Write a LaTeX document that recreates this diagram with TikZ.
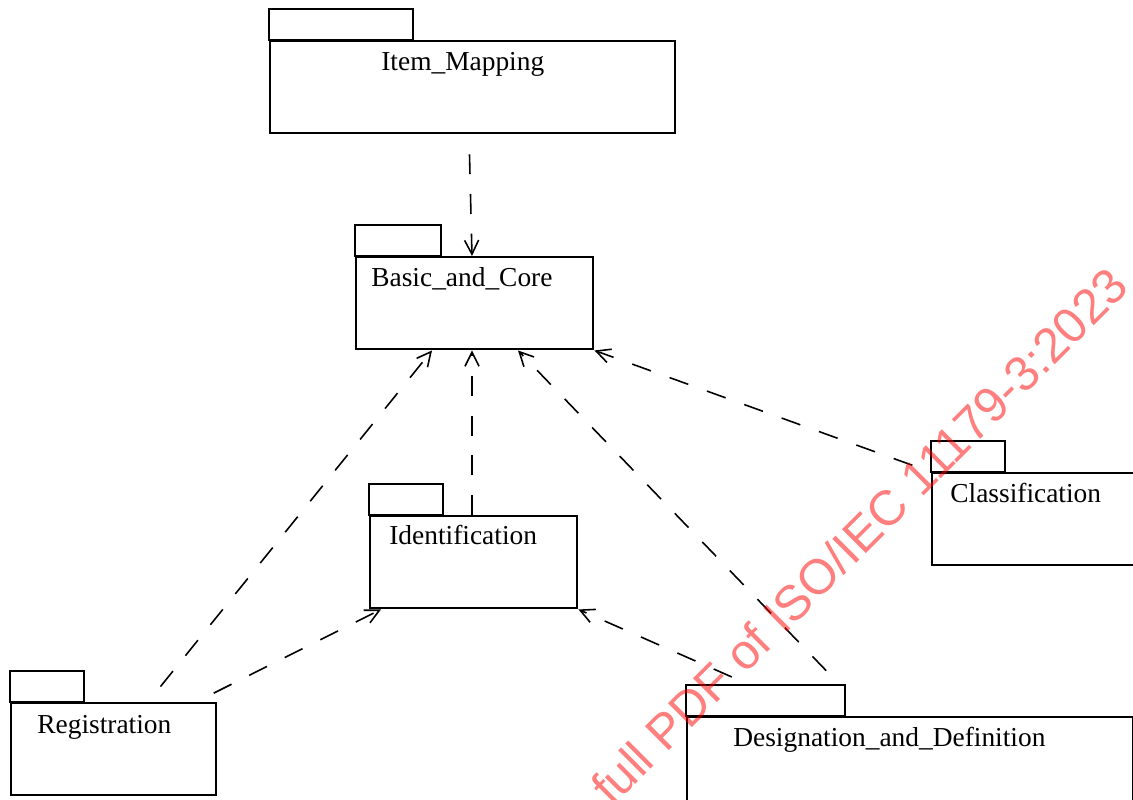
\documentclass[tikz,border=0pt]{standalone}
\usepackage{fontspec}
\setmainfont{Liberation Serif}
\newfontfamily\wmfont{Liberation Sans}
\usetikzlibrary{arrows.meta, calc}

\newlength\px
\setlength\px{0.02cm}

\tikzset{
	pkg/.style={draw, line width=1.4pt, rectangle, inner sep=0pt, anchor=north west},
	pkgtab/.style={draw, line width=1.4pt},
	pkgname/.style={anchor=base west, inner sep=0pt, font=\fontsize{15.6}{18}\selectfont},
	dep/.style={line width=0.9pt, dash pattern=on 11.3pt off 11.3pt, dash phase=11.3pt,
		-{Straight Barb[length=8pt, width=8pt, line width=0.9pt]}},
	wmark/.style={inner sep=0pt, text=red, text opacity=0.5, font=\wmfont\fontsize{28}{30}\selectfont}
}

\begin{document}
\begin{tikzpicture}[x=\px, y=-\px]
	\path [use as bounding box, clip] (0,0) rectangle (1133,800);

	\node [pkg, minimum width=405\px, minimum height=92\px] (im) at (269,40) {};
	\node [pkg, minimum width=237\px, minimum height=92\px] (bc) at (355,256) {};
	\node [pkg, minimum width=207\px, minimum height=92\px] (id) at (369,515) {};
	\node [pkg, minimum width=220\px, minimum height=92\px] (cl) at (931,472) {};
	\node [pkg, minimum width=205\px, minimum height=92\px] (rg) at (10,702) {};
	\node [pkg, minimum width=446\px, minimum height=100\px] (dd) at (686,716) {};

	\draw [pkgtab] (im.north west) rectangle ++(144,-31);
	\draw [pkgtab] (bc.north west) rectangle ++(86,-31);
	\draw [pkgtab] (id.north west) rectangle ++(74,-31);
	\draw [pkgtab] (cl.north west) rectangle ++(74,-31);
	\draw [pkgtab] (rg.north west) rectangle ++(74,-31);
	\draw [pkgtab] (dd.north west) rectangle ++(159,-31);

	\node [pkgname] (im-name) at ($(im.north west)+(112,31)$) {Item\_Mapping};
	\node [pkgname] (bc-name) at ($(bc.north west)+(16,31)$) {Basic\_and\_Core};
	\node [pkgname] (id-name) at ($(id.north west)+(20,29)$) {Identification};
	\node [pkgname] (cl-name) at ($(cl.north west)+(19,30)$) {Classification};
	\node [pkgname] (rg-name) at ($(rg.north west)+(27,31)$) {Registration};
	\node [pkgname] (dd-name) at ($(dd.north west)+(47,30)$) {Designation\_and\_Definition};

	\draw [dep] ($(im.south west)+(200,0)$) -- ($(bc.north west)+(117,0)$);
	\draw [dep, dash phase=0pt] ($(id.north west)+(103,0)$) -- ($(bc.south west)+(117,0)$);
	\draw [dep] ($(rg.north west)+(138,0)$) -- ($(bc.south west)+(77,0)$);
	\draw [dep] ($(rg.north west)+(186,0)$) -- ($(id.south west)+(12,0)$);
	\draw [dep] ($(dd.north west)+(64,-31)$) -- (id.south east);
	\draw [dep] ($(dd.north west)+(154,-31)$) -- ($(bc.south west)+(163,0)$);
	\draw [dep] (cl.north west) -- (bc.south east);

	\node [wmark, rotate=45] (wm) at (859,536) {full PDF of ISO/IEC 11179-3:2023};
\end{tikzpicture}
\end{document}
